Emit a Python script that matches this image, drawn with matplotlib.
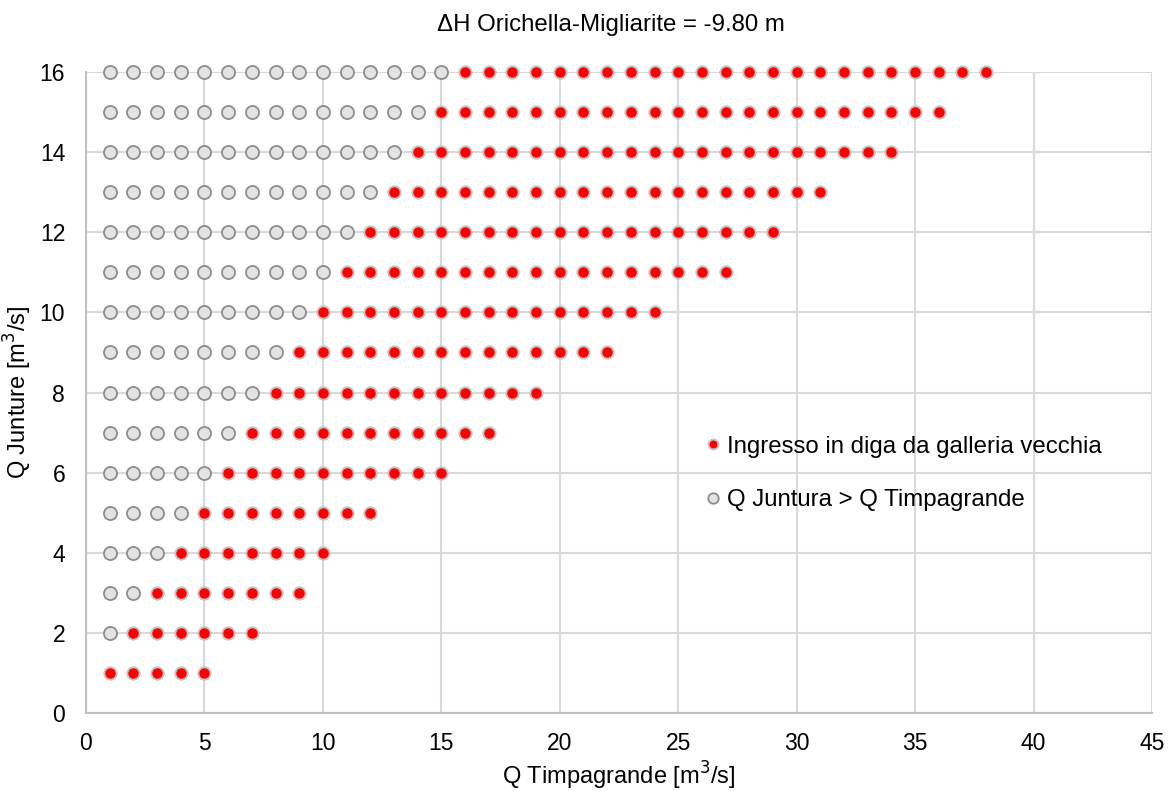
import matplotlib
matplotlib.use("Agg")
import matplotlib.pyplot as plt
import numpy as np

plt.rcParams['font.family'] = ['Liberation Sans', 'DejaVu Sans']

# Q Juntura levels (rows) and the range of Q Timpagrande where entry from the old tunnel occurs
q_juntura = [1, 2, 3, 4, 5, 6, 7, 8, 9, 10, 11, 12, 13, 14, 15, 16]
red_start = [1, 2, 3, 4, 5, 6, 7, 8, 9, 10, 11, 12, 13, 14, 15, 16]
red_end = [5, 7, 9, 10, 12, 15, 17, 19, 22, 24, 27, 29, 31, 34, 36, 38]
grey_start = 1

x_ticks = [0, 5, 10, 15, 20, 25, 30, 35, 40, 45]
y_ticks = [0, 2, 4, 6, 8, 10, 12, 14, 16]

title = "ΔH Orichella-Migliarite = -9.80 m"
label_red = "Ingresso in diga da galleria vecchia"
label_grey = "Q Juntura > Q Timpagrande"

red_x, red_y, grey_x, grey_y = [], [], [], []
for qj, s, e in zip(q_juntura, red_start, red_end):
    for qt in range(grey_start, s):
        grey_x.append(qt)
        grey_y.append(qj)
    for qt in range(s, e + 1):
        red_x.append(qt)
        red_y.append(qj)

fig = plt.figure(figsize=(11.68, 7.91), dpi=100)
ax = fig.add_axes([86 / 1168, 1 - 713 / 791, 1066 / 1168, 641 / 791])

ax.plot(red_x, red_y, linestyle='none', marker='o', markersize=8.9,
        markerfacecolor='#ff0000', markeredgecolor='#c4c4c4', markeredgewidth=1.4,
        label=label_red, clip_on=False, zorder=3)
ax.plot(grey_x, grey_y, linestyle='none', marker='o', markersize=9.4,
        markerfacecolor='#e3e3e3', markeredgecolor='#8c8c8c', markeredgewidth=1.3,
        label=label_grey, clip_on=False, zorder=3)

ax.set_xlim(0, 45)
ax.set_ylim(0, 16)
ax.set_xticks(x_ticks)
ax.set_yticks(y_ticks)
ax.tick_params(axis='y', length=0, labelsize=16.5, labelcolor='#000000', pad=15)
ax.tick_params(axis='x', length=0, labelsize=16.5, labelcolor='#000000', pad=14)

ax.grid(True, color='#d9d9d9', linewidth=1.5, zorder=0)
ax.set_axisbelow(True)
for side in ['top', 'right']:
    ax.spines[side].set_visible(False)
for side in ['left', 'bottom']:
    ax.spines[side].set_color('#bfbfbf')
    ax.spines[side].set_linewidth(1.5)

ax.set_xlabel("Q Timpagrande [m$^3$/s]", fontsize=17, labelpad=3)
ax.set_ylabel("Q Junture [m$^3$/s]", fontsize=17, labelpad=4)

fig.text(611 / 1168, 1 - 25 / 791, title, ha='center', va='center', fontsize=17.3)

ax.legend(loc='center left', bbox_to_anchor=(0.571, 0.3736), frameon=False,
          fontsize=17.3, handlelength=0.5, handletextpad=0.35, labelspacing=1.32,
          markerscale=0.8, borderpad=0)

fig.savefig("out.png", dpi=100)
